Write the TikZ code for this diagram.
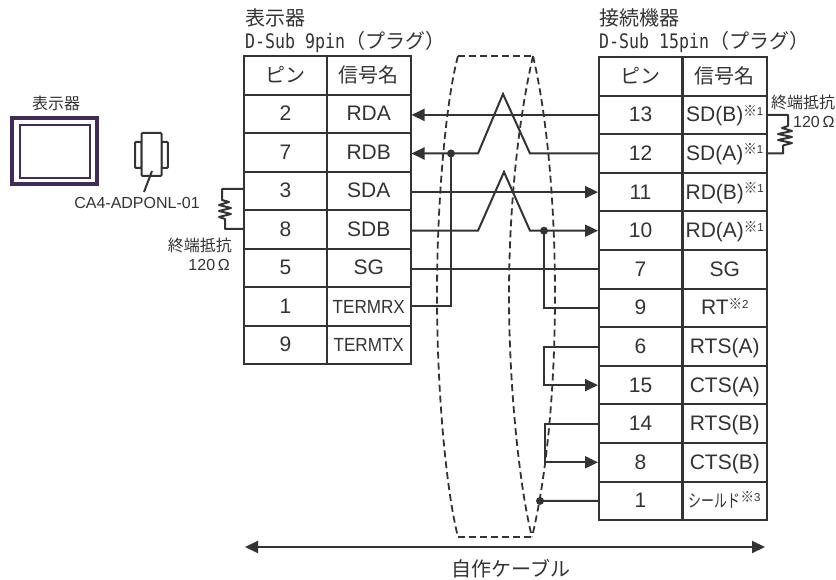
\documentclass[tikz,border=0pt]{standalone}
\usepackage{fontspec}
\usetikzlibrary{arrows.meta,calc}
\setmainfont{Liberation Sans}
\newfontfamily\jpf{Noto Sans CJK JP}
\newfontfamily\dsubf[FakeStretch=0.83]{DejaVu Sans Mono}
\newcommand{\sz}[1]{\fontsize{#1}{#1}\selectfont}
\newcommand{\nt}[1]{\raisebox{5.5pt}{\jpf\sz{15}\scalebox{.9}[1]{※}\rmfamily\sz{11.5}\raisebox{1pt}{#1}}}
\definecolor{ink}{HTML}{333333}
\definecolor{disp}{HTML}{3F2D56}
\tikzset{
 cell/.style={draw=ink,line width=2pt,minimum height=38.55pt,inner sep=0pt,text=ink,text height=14pt,text depth=0pt,font=\sz{21}},
 pinc/.style={cell,minimum width=83pt},
 sigc/.style={cell,minimum width=83.5pt},
 wire/.style={draw=ink,line width=2pt},
 awire/.style={wire,-{Triangle[length=13pt,width=12pt]}},
 shield/.style={draw=ink,line width=1.8pt,dash pattern=on 7pt off 4pt},
 dot/.style={circle,fill=ink,inner sep=0pt,minimum size=8pt},
 lab/.style={text=ink,inner sep=0pt},
}
\begin{document}
\begin{tikzpicture}[x=1pt,y=-1pt]
\useasboundingbox (0,0) rectangle (836,580);
% headings
\node[lab,anchor=west,font=\jpf\sz{20}] (ltitle) at (245,18) {表示器};
\node[lab,anchor=west,font=\sz{20}] (lsub) at (245,42) {\dsubf D-Sub 9pin\jpf\sz{20}（プラグ）};
\node[lab,anchor=west,font=\jpf\sz{20}] (rtitle) at (599,18) {接続機器};
\node[lab,anchor=west,font=\sz{20}] (rsub) at (599,42) {\dsubf D-Sub 15pin\jpf\sz{20}（プラグ）};
% left table
\foreach \n/\p/\s [count=\i from 0] in {h/{\jpf\sz{20}ピン}/{\jpf\sz{20}信号名},a/2/RDA,b/7/RDB,c/3/SDA,d/8/SDB,e/5/SG,f/1/{\sz{19}\scalebox{.9}[1]{TERMRX}},g/9/{\sz{19}\scalebox{.9}[1]{TERMTX}}}{
 \node[pinc] (lp\n) at (285.5,{75.3+38.5*\i}) {\p};
 \node[sigc] (ls\n) at (368.75,{75.3+38.5*\i}) {\s};
}
% right table
\foreach \n/\p/\s [count=\i from 0] in {
 h/{\jpf\sz{20}ピン}/{\jpf\sz{20}信号名},
 a/13/{SD(B)\nt{1}},b/12/{SD(A)\nt{1}},c/11/{RD(B)\nt{1}},d/10/{RD(A)\nt{1}},
 e/7/SG,f/9/{RT\nt{2}},g/6/RTS(A),i/15/CTS(A),j/14/RTS(B),k/8/CTS(B),
 l/1/{{\jpf\sz{18}\scalebox{.72}[1]{シールド}}\nt{3}}}{
 \node[pinc] (rp\n) at (640.5,{76.3+38.6*\i}) {\p};
 \node[sigc] (rs\n) at (724.75,{76.3+38.6*\i}) {\s};
}
% dashed cable shield
\coordinate (st1) at (458,56); \coordinate (st2) at (533,56);
\coordinate (sb1) at (458,537); \coordinate (sb2) at (532,537);
\draw[shield] (st1) -- (st2);
\draw[shield] (sb1) -- (sb2);
\draw[shield] (st1) .. controls (446,100) and (437,200) .. (437,295) .. controls (437,390) and (446,490) .. (sb1);
\draw[shield] (st2) .. controls (516,130) and (509,220) .. (509,295) .. controls (509,390) and (520,490) .. (sb2);
\draw[shield] (st2) .. controls (548,120) and (555,210) .. (555,295) .. controls (555,380) and (548,470) .. (sb2);
% wires
\draw[awire] (rpa.west) -- (lsa.east |- rpa.west);
\node[dot] (j1) at (451,153.5) {};
\draw[awire] (rpb.west) -- (530,0 |- rpb.west) -- (503,94) -- (478,0 |- rpb.west) -- (lsb.east |- rpb.west);
\draw[wire] (j1.center) -- (451,306) -- (lsf.east |- 0,306);
\draw[awire] (lsc.east |- rpc.west) -- (rpc.west);
\draw[awire] (lsd.east |- rpd.west) -- (478,0 |- rpd.west) -- (504,172) -- (530,0 |- rpd.west) -- (rpd.west);
\node[dot] (j2) at (544,230.7) {};
\draw[wire] (j2.center) -- (544,0 |- rpf.west) -- (rpf.west);
\draw[wire] (lse.east |- rpe.west) -- (rpe.west);
\draw[awire] (rpg.west) -- (544,0 |- rpg.west) -- (544,0 |- rpi.west) -- (rpi.west);
\draw[awire] (rpj.west) -- (545,0 |- rpj.west) -- (545,0 |- rpk.west) -- (rpk.west);
\node[dot] (j3) at (540,500.9) {};
\draw[wire] (rpl.west) -- (j3.center);
% bottom dimension arrow
\coordinate (d1) at (245,547); \coordinate (d2) at (765,547);
\draw[wire,{Triangle[length=13pt,width=12pt]}-{Triangle[length=13pt,width=12pt]}] (d1) -- (d2);
\node[lab,font=\jpf\sz{20}] (cable) at (511,569) {自作ケーブル};
% left terminating resistor
\coordinate (ra) at (243,189); \coordinate (rb) at (243,229);
\draw[wire,line join=round] (lpc.west |- ra) -- (222,189) -- (222,200) -- (229,202) -- (219,205) -- (231,208) -- (219,211) -- (231,214) -- (219,217) -- (225,219) -- (225,229) -- (lpd.west |- rb);
\node[lab,font=\jpf\sz{16},anchor=east] (lrt) at (232,245) {終端抵抗};
\node[lab,font=\sz{16},anchor=east] (lro) at (230,265) {120\,Ω};
% right terminating resistor
\draw[wire,line join=round] (rsa.east) -- (788,0 |- rsa.east) -- (788,126) -- (782,128) -- (792,131) -- (778,134) -- (792,137) -- (778,140) -- (792,143) -- (783,145.5) -- (783,0 |- rsb.east) -- (rsb.east);
\node[lab,font=\jpf\sz{16},anchor=west] (rrt) at (771,102) {終端抵抗};
\node[lab,font=\sz{16},anchor=west] (rro) at (793,122) {120\,Ω};
% display icon
\node[lab,font=\jpf\sz{16}] (dlab) at (56,103) {表示器};
\node[draw=disp,line width=3.5pt,minimum width=85pt,minimum height=66pt,inner sep=0pt] (scr) at (54.5,151) {};
\node[draw=disp,line width=2pt,minimum width=70pt,minimum height=53pt,inner sep=0pt] (scri) at (54.5,151.5) {};
% adapter icon
\node[draw=ink,line width=2pt,rounded corners=1pt,minimum width=6.5pt,minimum height=26pt,inner sep=0pt] (tabl) at (138.3,155) {};
\node[draw=ink,line width=2pt,rounded corners=1pt,minimum width=6.5pt,minimum height=26pt,inner sep=0pt] (tabr) at (164.7,155) {};
\node[draw=ink,fill=white,line width=2pt,rounded corners=1pt,minimum width=20pt,minimum height=43pt,inner sep=0pt] (adp) at (151.5,154.5) {};
\node[lab,font=\sz{16}] (adplab) at (137,203) {CA4-ADPONL-01};
\coordinate (adpt) at (152,171);
\coordinate (adpe) at (144,192);
\draw[wire] (adpt) -- (adpe);
\end{tikzpicture}
\end{document}
